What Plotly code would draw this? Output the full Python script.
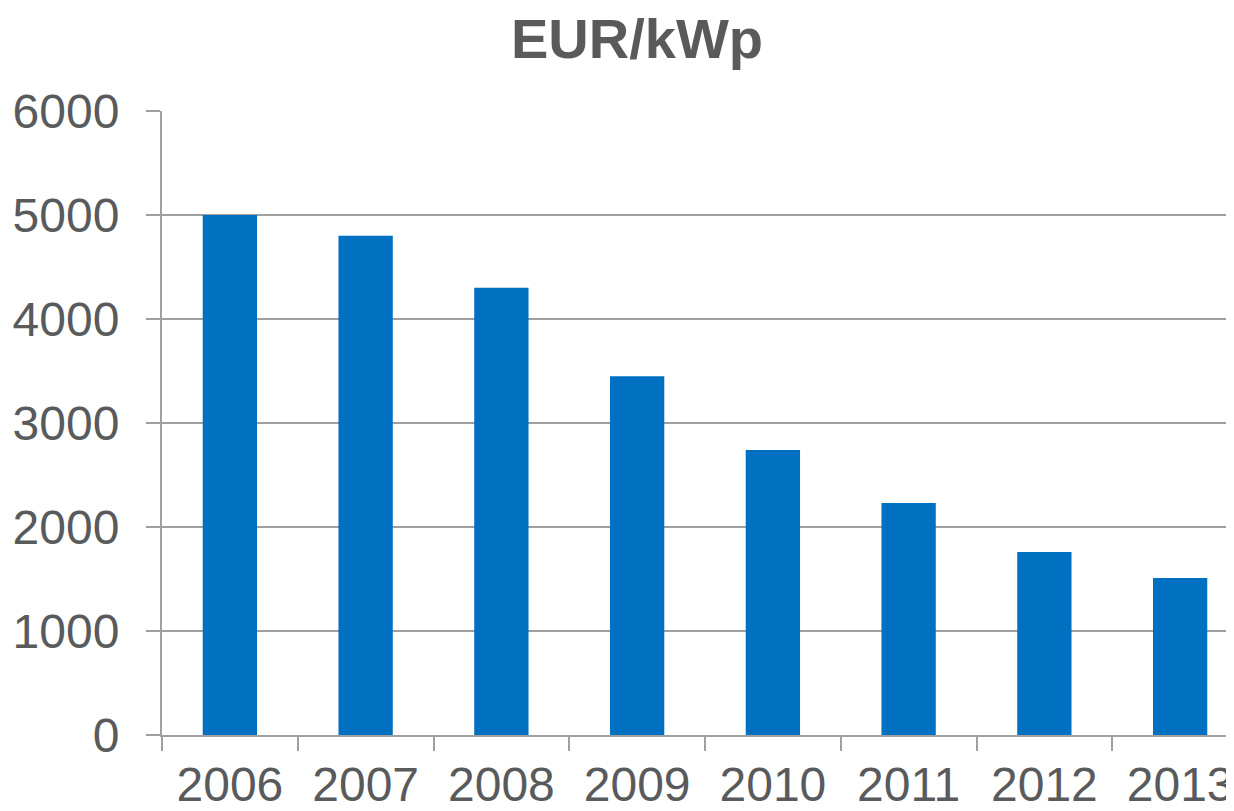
import plotly.graph_objects as go

years = ["2006", "2007", "2008", "2009", "2010", "2011", "2012", "2013"]
values = [5000, 4800, 4300, 3450, 2740, 2230, 1760, 1510]
y_ticks = [0, 1000, 2000, 3000, 4000, 5000, 6000]

TEXT = "#595A5C"
GRID = "#A0A0A0"
BAR = "#0070C0"

fig = go.Figure(go.Bar(x=years, y=values, marker=dict(color=BAR, line=dict(width=0)), width=0.4))

fig.update_layout(
    width=1240, height=811,
    margin=dict(l=154, r=0, t=103, b=84),
    plot_bgcolor="white", paper_bgcolor="white",
    font=dict(family="Liberation Sans, Arial, sans-serif", color=TEXT, size=48),
    title=dict(text="<b>EUR/kWp</b>", x=629 / 1240, xanchor="center", y=1 - 30 / 811, yanchor="middle",
               yref="container", font=dict(size=56, color=TEXT)),
    showlegend=False,
)
fig.update_xaxes(
    type="category", range=[-0.5, 7.5], tickson="boundaries",
    ticks="outside", ticklen=14, tickwidth=2, tickcolor=GRID,
    showline=True, linecolor=GRID, linewidth=2, showgrid=False,
    tickfont=dict(size=48, color=TEXT), ticklabelstandoff=6,
)
fig.update_yaxes(
    range=[0, 6000], tickvals=y_ticks, ticks="outside", ticklen=14, tickwidth=2, tickcolor=GRID,
    showline=True, linecolor=GRID, linewidth=2, showgrid=True, gridcolor=GRID, gridwidth=2,
    zeroline=False, tickfont=dict(size=48, color=TEXT), ticklabelstandoff=17,
)
fig.write_html("out.html")
